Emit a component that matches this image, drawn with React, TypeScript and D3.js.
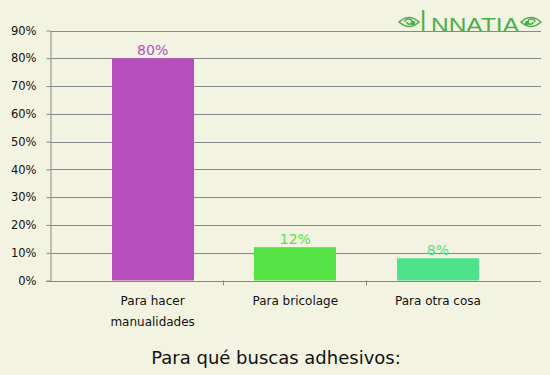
import { useEffect, useRef } from 'react';
import * as d3 from 'd3';

const CATEGORIES = ['Para hacer\nmanualidades', 'Para bricolage', 'Para otra cosa'];
const VALUES = [80, 12, 8];
const COLORS = ['#B64FBD', '#56E346', '#4DE38B'];
const Y_TICKS = [0, 10, 20, 30, 40, 50, 60, 70, 80, 90];
const TITLE = 'Para qué buscas adhesivos:';

const W = 550, H = 375;
const FONT = 'DejaVu Sans, Verdana, sans-serif';

export default function App() {
  const svgRef = useRef<SVGSVGElement>(null);

  useEffect(() => {
    const svg = d3.select(svgRef.current!);
    svg.selectAll('*').remove();

    svg.append('rect').attr('width', W).attr('height', H).attr('fill', '#F3F3E2');

    const axisX = 50.5, right = 541;
    const y = d3.scaleLinear().domain([0, 90]).range([280.5, 30.5]);
    const x = d3.scaleBand<number>().domain(d3.range(CATEGORIES.length)).range([81.3, 509.3]);
    const barW = 82;

    // grid
    svg.append('g').selectAll('line').data(Y_TICKS.filter((t) => t > 0)).join('line')
      .attr('x1', axisX).attr('x2', right)
      .attr('y1', (d) => Math.round(y(d)) + 0.5).attr('y2', (d) => Math.round(y(d)) + 0.5)
      .attr('stroke', '#888').attr('stroke-width', 1);

    // y axis
    const yAxis = svg.append('g').attr('transform', `translate(${axisX},0)`)
      .call(d3.axisLeft(y).tickValues(Y_TICKS).tickSize(4).tickSizeOuter(0).tickPadding(10).tickFormat((d) => `${d}%`));
    yAxis.select('.domain').attr('stroke', '#888');
    yAxis.selectAll('.tick line').attr('stroke', '#888');
    yAxis.selectAll('.tick text').attr('font-family', FONT).attr('font-size', 11.5).attr('fill', '#111');

    // bars
    svg.append('g').selectAll('rect').data(VALUES).join('rect')
      .attr('x', (_, i) => Math.round(x(i)! + (x.bandwidth() - barW) / 2))
      .attr('width', barW)
      .attr('y', (d) => y(d))
      .attr('height', (d) => y(0) - y(d))
      .attr('fill', (_, i) => COLORS[i]);

    // x axis line + ticks
    svg.append('line').attr('x1', axisX - 4).attr('x2', right)
      .attr('y1', Math.round(y(0)) + 0.5).attr('y2', Math.round(y(0)) + 0.5).attr('stroke', '#888');
    svg.append('g').selectAll('line').data([1, 2]).join('line')
      .attr('x1', (d) => Math.round(x(d)!) - 0.5).attr('x2', (d) => Math.round(x(d)!) - 0.5)
      .attr('y1', y(0)).attr('y2', y(0) + 5).attr('stroke', '#888');

    // value labels
    svg.append('g').selectAll('text').data(VALUES).join('text')
      .attr('x', (_, i) => x(i)! + x.bandwidth() / 2)
      .attr('y', (d) => y(d) - 3)
      .attr('text-anchor', 'middle').attr('font-family', FONT).attr('font-size', 14)
      .attr('fill', (_, i) => COLORS[i])
      .text((d) => `${d}%`);

    // category labels
    const cats = svg.append('g').selectAll('text').data(CATEGORIES).join('text')
      .attr('text-anchor', 'middle').attr('font-family', FONT).attr('font-size', 12).attr('fill', '#111');
    cats.each(function (d, i) {
      const t = d3.select(this);
      d.split('\n').forEach((line, j) => {
        t.append('tspan').attr('x', x(i)! + x.bandwidth() / 2).attr('y', 305 + j * 21).text(line);
      });
    });

    // title
    svg.append('text').attr('x', 276).attr('y', 364).attr('text-anchor', 'middle')
      .attr('font-family', FONT).attr('font-size', 18).attr('fill', '#111').text(TITLE);

    // logo
    const logo = svg.append('g').attr('fill', '#4DAF4A').attr('stroke', '#4DAF4A');
    const eye = (cx: number, flip: number) => {
      const g = logo.append('g').attr('transform', `translate(${cx},22) scale(${flip},1)`).attr('fill', 'none').attr('stroke-width', 1.6);
      g.append('path').attr('d', 'M-10,0 Q0,-9 10,0 Q0,9 -10,0 Z');
      g.append('path').attr('d', 'M4,0 C4,-4 -3,-4 -3,0 C-3,3 2,3 2,0');
      g.append('circle').attr('cx', -4).attr('cy', 1).attr('r', 1.5).attr('fill', '#4DAF4A');
    };
    eye(409, -1);
    eye(531, 1);
    logo.append('text').attr('x', 420).attr('y', 32).attr('font-family', 'Liberation Sans, sans-serif')
      .attr('stroke', 'none').attr('font-size', 32).attr('transform', 'translate(420,32) scale(0.7,1) translate(-420,-32)').text('I');
    logo.append('text').attr('x', 431).attr('y', 32).attr('font-family', 'Liberation Sans, sans-serif')
      .attr('stroke', 'none').attr('font-size', 21).attr('textLength', 88).attr('lengthAdjust', 'spacingAndGlyphs').text('NNATIA');
  }, []);

  return (
    <svg ref={svgRef} width={W} height={H}
      style={{ position: 'fixed', left: 0, top: 0, display: 'block' }} />
  );
}
